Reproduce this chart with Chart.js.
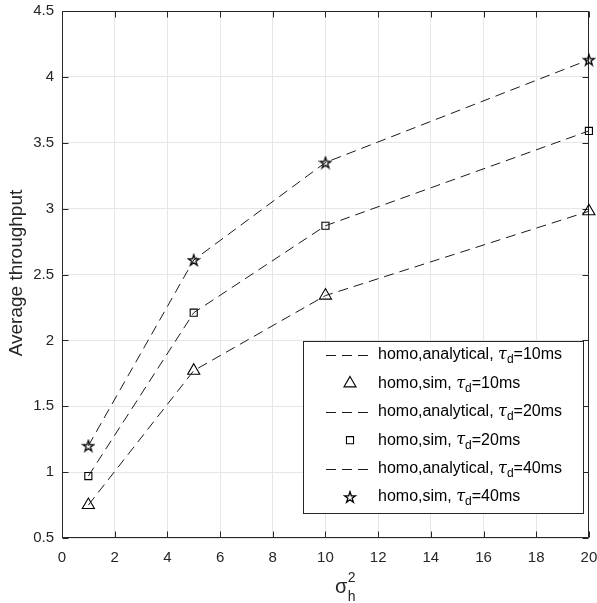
<!DOCTYPE html>
<html><head><meta charset="utf-8">
<script src="https://cdn.jsdelivr.net/npm/chart.js@4"></script>
<style>html,body{margin:0;padding:0;background:#fff;overflow:hidden}</style>
</head><body>
<canvas id="c" width="597" height="603"></canvas>
<script>
// ---- data ----
const xValues = [1, 5, 10, 20];
const analytical10 = [0.75, 1.77, 2.34, 2.98];
const sim10        = [0.75, 1.77, 2.34, 2.98];
const analytical20 = [0.97, 2.21, 2.87, 3.59];
const sim20        = [0.97, 2.21, 2.87, 3.59];
const analytical40 = [1.20, 2.61, 3.35, 4.13];
const sim40        = [1.20, 2.61, 3.35, 4.13];
const xTickValues = [0, 2, 4, 6, 8, 10, 12, 14, 16, 18, 20];
const yTickValues = [0.5, 1, 1.5, 2, 2.5, 3, 3.5, 4, 4.5];
const legendLabels = [
  ['homo,analytical, ', '=10ms'],
  ['homo,sim, ', '=10ms'],
  ['homo,analytical, ', '=20ms'],
  ['homo,sim, ', '=20ms'],
  ['homo,analytical, ', '=40ms'],
  ['homo,sim, ', '=40ms']
];

const FONT = '"Liberation Sans", Arial, Helvetica, sans-serif';
const toXY = arr => arr.map((v, i) => ({x: xValues[i], y: v}));

// pentagram marker
function makeStar(size, R) {
  const cv = document.createElement('canvas');
  cv.width = size; cv.height = size;
  const g = cv.getContext('2d');
  const c = size / 2, r = R * 0.382;
  g.beginPath();
  for (let i = 0; i < 10; i++) {
    const a = -Math.PI / 2 + i * Math.PI / 5;
    const rr = i % 2 === 0 ? R : r;
    const px = c + rr * Math.cos(a), py = c + 0.6 + rr * Math.sin(a);
    i === 0 ? g.moveTo(px, py) : g.lineTo(px, py);
  }
  g.closePath();
  g.lineWidth = 1.3; g.strokeStyle = '#000';
  g.stroke();
  return cv;
}
const starImg = makeStar(14, 5.8);

const DASH = [10, 6];
function lineDs(label, data) {
  return {label, data: toXY(data), borderColor: '#1a1a1a', borderWidth: 1, borderDash: DASH,
    pointRadius: 0, fill: false, tension: 0, showLine: true, clip: false};
}
function simDs(label, data, style, radius) {
  return {label, data: toXY(data), showLine: false, borderColor: '#000', backgroundColor: 'rgba(0,0,0,0)',
    pointStyle: style, pointRadius: radius, pointBorderColor: '#000', pointBackgroundColor: 'rgba(0,0,0,0)',
    pointBorderWidth: 1.1, clip: false};
}

const decorPlugin = {
  id: 'decor',
  beforeDatasetsDraw(chart) {
    const ctx = chart.ctx;
    const a = chart.chartArea;
    const xs = chart.scales.x, ys = chart.scales.y;
    const L = Math.round(a.left) + 0.5, R = Math.round(a.right) - 0.5;
    const T = Math.round(a.top) + 0.5, B = Math.round(a.bottom) - 0.5;
    ctx.save();
    ctx.strokeStyle = '#262626';
    ctx.lineWidth = 1;
    ctx.beginPath();
    ctx.moveTo(L, T); ctx.lineTo(R, T); ctx.lineTo(R, B); ctx.lineTo(L, B); ctx.closePath();
    ctx.stroke();
    const tl = 6;
    ctx.beginPath();
    xTickValues.forEach(v => {
      const px = Math.round(xs.getPixelForValue(v)) + 0.5;
      ctx.moveTo(px, B); ctx.lineTo(px, B - tl);
      ctx.moveTo(px, T); ctx.lineTo(px, T + tl);
    });
    yTickValues.forEach(v => {
      const py = Math.round(ys.getPixelForValue(v)) + 0.5;
      ctx.moveTo(L, py); ctx.lineTo(L + tl, py);
      ctx.moveTo(R, py); ctx.lineTo(R - tl, py);
    });
    ctx.stroke();
    ctx.restore();
  },
  afterDraw(chart) {
    const ctx = chart.ctx;
    ctx.save();
    // y-axis title
    ctx.fillStyle = '#262626';
    ctx.font = '19px ' + FONT;
    ctx.textAlign = 'center';
    ctx.textBaseline = 'middle';
    ctx.save();
    ctx.translate(17, 273);
    ctx.rotate(-Math.PI / 2);
    ctx.fillText('Average throughput', 0, 0);
    ctx.restore();

    // x-axis title: sigma_h^2
    ctx.textAlign = 'left';
    ctx.textBaseline = 'alphabetic';
    ctx.font = '20px ' + FONT;
    const sw = ctx.measureText('σ').width;
    const x0 = 335;
    ctx.fillText('σ', x0, 593);
    ctx.font = '14px ' + FONT;
    ctx.fillText('2', x0 + sw + 0.5, 582);
    ctx.fillText('h', x0 + sw + 0.5, 601);

    // legend
    const bx = 303.5, by = 341.5, bw = 280, bh = 172;
    ctx.fillStyle = '#fff';
    ctx.fillRect(bx, by, bw, bh);
    ctx.strokeStyle = '#262626';
    ctx.lineWidth = 1;
    ctx.strokeRect(bx, by, bw, bh);
    const rowY0 = 355, rowH = 28.4;
    const ds = chart.data.datasets;
    legendLabels.forEach((lab, i) => {
      const y = rowY0 + i * rowH;
      if (i % 2 === 0) {
        ctx.save();
        ctx.strokeStyle = '#1a1a1a';
        ctx.setLineDash(DASH);
        ctx.beginPath();
        ctx.moveTo(326, Math.round(y) + 0.5); ctx.lineTo(372, Math.round(y) + 0.5);
        ctx.stroke();
        ctx.restore();
      } else {
        const d = ds[i];
        ctx.save();
        ctx.fillStyle = 'rgba(0,0,0,0)';
        ctx.strokeStyle = '#000';
        ctx.lineWidth = 1.1;
        Chart.helpers.drawPoint(ctx, {pointStyle: d.pointStyle, radius: d.pointRadius, borderWidth: 1.1, rotation: 0}, 350, y);
        ctx.restore();
      }
      ctx.fillStyle = '#000';
      ctx.textBaseline = 'middle';
      ctx.textAlign = 'left';
      ctx.font = '16px ' + FONT;
      let tx = 378;
      ctx.fillText(lab[0], tx, y);
      tx += ctx.measureText(lab[0]).width;
      ctx.font = 'italic 16px "DejaVu Serif", "Liberation Serif", serif';
      ctx.fillText('τ', tx, y);
      tx += ctx.measureText('τ').width;
      ctx.font = '12px ' + FONT;
      ctx.fillText('d', tx, y + 5);
      tx += ctx.measureText('d').width;
      ctx.font = '16px ' + FONT;
      ctx.fillText(lab[1], tx, y);
    });
    ctx.restore();
  }
};

function zeroPad(s) { s.paddingTop = 0; s.paddingBottom = 0; s.paddingLeft = 0; s.paddingRight = 0; }

new Chart(document.getElementById('c'), {
  type: 'scatter',
  data: {
    datasets: [
      lineDs('homo,analytical, τd=10ms', analytical10),
      simDs('homo,sim, τd=10ms', sim10, 'triangle', 7),
      lineDs('homo,analytical, τd=20ms', analytical20),
      simDs('homo,sim, τd=20ms', sim20, 'rect', 5),
      lineDs('homo,analytical, τd=40ms', analytical40),
      simDs('homo,sim, τd=40ms', sim40, starImg, 7)
    ]
  },
  options: {
    responsive: false,
    animation: false,
    devicePixelRatio: 1,
    layout: {padding: {top: 11, right: 8, left: 0, bottom: 0}},
    plugins: {legend: {display: false}, tooltip: {enabled: false}},
    scales: {
      x: {
        type: 'linear', min: 0, max: 20,
        afterBuildTicks: s => { s.ticks = xTickValues.map(v => ({value: v})); },
        afterFit: s => { s.height = 65; zeroPad(s); },
        ticks: {color: '#262626', font: {size: 15, family: FONT}, padding: 11, maxRotation: 0,
          callback: v => String(v)},
        grid: {color: '#e6e6e6', drawTicks: false, lineWidth: 1},
        border: {display: false}
      },
      y: {
        type: 'linear', min: 0.5, max: 4.5,
        afterBuildTicks: s => { s.ticks = yTickValues.map(v => ({value: v})); },
        afterFit: s => { s.width = 62; zeroPad(s); },
        ticks: {color: '#262626', font: {size: 15, family: FONT}, padding: 8,
          callback: v => String(v)},
        grid: {color: '#e6e6e6', drawTicks: false, lineWidth: 1},
        border: {display: false}
      }
    }
  },
  plugins: [decorPlugin]
});
</script>
</body></html>
